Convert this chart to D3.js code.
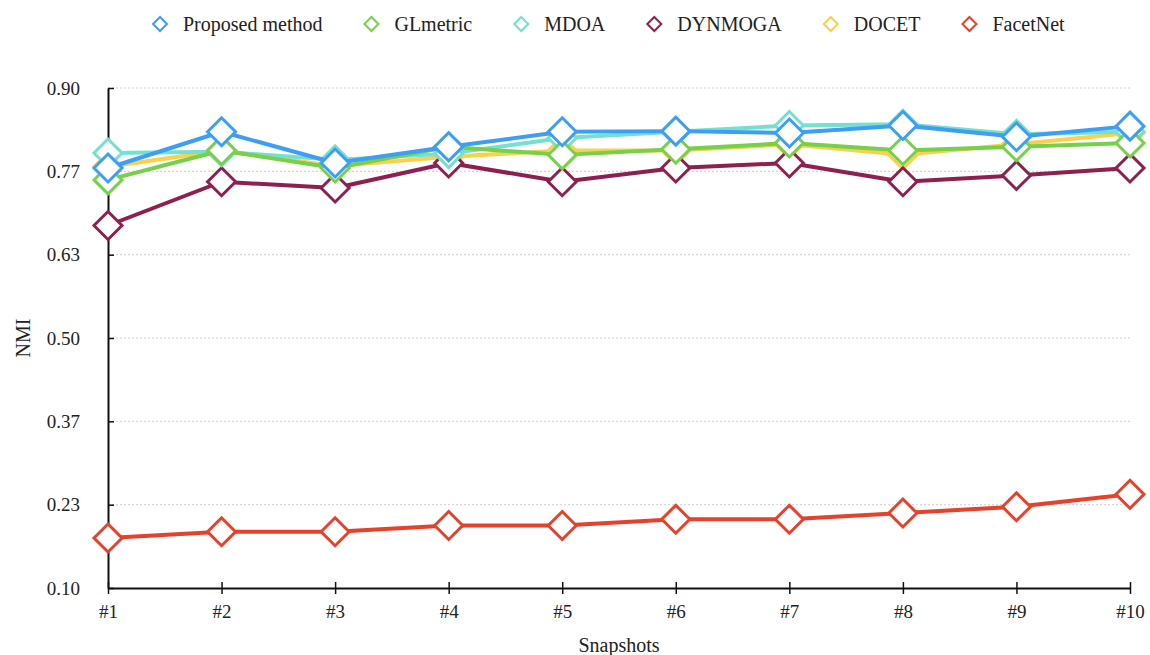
<!DOCTYPE html>
<html>
<head>
<meta charset="utf-8">
<script src="https://cdn.jsdelivr.net/npm/d3@7"></script>
<style>
  body { margin: 0; background: #fff; }
  text { font-family: "Liberation Serif", "DejaVu Serif", serif; fill: #222; }
</style>
</head>
<body>
<svg id="chart" width="1150" height="655"></svg>
<script>
  // data
  var snapshots = ["#1", "#2", "#3", "#4", "#5", "#6", "#7", "#8", "#9", "#10"];
  var yTicks    = [0.10, 0.2333, 0.3667, 0.50, 0.6333, 0.7667, 0.90];

  var seriesNames  = ["Proposed method", "GLmetric", "MDOA", "DYNMOGA", "DOCET", "FacetNet"];
  var seriesColors = ["#3d9ef5", "#76d04a", "#74e0d0", "#8e1f4f", "#fcd04a", "#e6412b"];

  var proposed = [0.772, 0.830, 0.780, 0.806, 0.830, 0.831, 0.828, 0.840, 0.822, 0.839];
  var glmetric = [0.753, 0.800, 0.772, 0.806, 0.793, 0.802, 0.812, 0.800, 0.806, 0.812];
  var mdoa     = [0.796, 0.798, 0.785, 0.795, 0.820, 0.830, 0.840, 0.842, 0.826, 0.830];
  var dynmoga  = [0.680, 0.750, 0.740, 0.780, 0.750, 0.772, 0.780, 0.750, 0.760, 0.772];
  var docet    = [0.774, 0.800, 0.775, 0.790, 0.800, 0.800, 0.810, 0.793, 0.810, 0.828];
  var facetnet = [0.180, 0.190, 0.190, 0.200, 0.200, 0.210, 0.210, 0.220, 0.230, 0.250];

  var allSeries = [proposed, glmetric, mdoa, dynmoga, docet, facetnet];

  var svg = d3.select("#chart");
  var plotLeft = 108, plotRight = 1130, plotTop = 88, plotBottom = 588;

  var x = d3.scalePoint().domain(snapshots).range([plotLeft, plotRight]);
  var y = d3.scaleLinear().domain([0.1, 0.9]).range([plotBottom, plotTop]);

  // grid
  svg.append("g")
    .selectAll("line")
    .data(yTicks.slice(1))
    .enter().append("line")
    .attr("x1", plotLeft).attr("x2", plotRight)
    .attr("y1", function (d) { return y(d); })
    .attr("y2", function (d) { return y(d); })
    .attr("stroke", "#cfcfcf")
    .attr("stroke-width", 1)
    .attr("stroke-dasharray", "2,2");

  // y axis
  var yAxis = svg.append("g")
    .attr("transform", "translate(" + plotLeft + ",0)")
    .call(d3.axisLeft(y).tickValues(yTicks).tickFormat(d3.format(".2f")).tickSizeInner(-6).tickSizeOuter(0).tickPadding(28));
  yAxis.select(".domain").attr("stroke", "#111").attr("stroke-width", 2);
  yAxis.selectAll(".tick line").attr("stroke", "#111").attr("stroke-width", 1.5);
  yAxis.selectAll("text").style("font-size", "19px").attr("fill", "#222");

  // x axis
  var xAxis = svg.append("g")
    .attr("transform", "translate(0," + plotBottom + ")")
    .call(d3.axisBottom(x).tickSizeInner(0).tickSizeOuter(0).tickPadding(17));
  xAxis.select(".domain").attr("stroke", "#111").attr("stroke-width", 2);
  xAxis.selectAll(".tick line").remove();
  xAxis.selectAll(".tick").append("line")
    .attr("y1", -6).attr("y2", 6)
    .attr("stroke", "#111").attr("stroke-width", 1.5);
  xAxis.selectAll("text").style("font-size", "19px").attr("fill", "#222");

  // axis titles
  svg.append("text")
    .attr("transform", "translate(30," + ((plotTop + plotBottom) / 2) + ") rotate(-90)")
    .attr("text-anchor", "middle")
    .style("font-size", "20px")
    .text("NMI");
  svg.append("text")
    .attr("x", 619).attr("y", 652)
    .attr("text-anchor", "middle")
    .style("font-size", "20px")
    .text("Snapshots");

  // lines, drawn in reverse legend order so Proposed ends on top
  var line = d3.line()
    .x(function (d, i) { return x(snapshots[i]); })
    .y(function (d) { return y(d); });

  function diamond(r) {
    return "M0," + (-r) + "L" + r + ",0L0," + r + "L" + (-r) + ",0Z";
  }

  for (var k = allSeries.length - 1; k >= 0; k--) {
    var g = svg.append("g");
    g.append("path")
      .attr("d", line(allSeries[k]))
      .attr("fill", "none")
      .attr("stroke", seriesColors[k])
      .attr("stroke-width", 4)
      .attr("stroke-linejoin", "round");
    g.selectAll("path.mark")
      .data(allSeries[k])
      .enter().append("path")
      .attr("class", "mark")
      .attr("d", diamond(14))
      .attr("transform", function (d, i) { return "translate(" + x(snapshots[i]) + "," + y(d) + ")"; })
      .attr("fill", "#fff")
      .attr("stroke", seriesColors[k])
      .attr("stroke-width", 3);
  }

  // legend
  var legend = svg.append("g").attr("transform", "translate(0,24)");
  var lx = 160;
  for (var j = 0; j < seriesNames.length; j++) {
    var item = legend.append("g").attr("transform", "translate(" + lx + ",0)");
    item.append("path")
      .attr("d", diamond(7))
      .attr("fill", "#fff")
      .attr("stroke", seriesColors[j])
      .attr("stroke-width", 2);
    var t = item.append("text")
      .attr("x", 23).attr("y", 7)
      .style("font-size", "20px")
      .text(seriesNames[j]);
    lx += 23 + t.node().getComputedTextLength() + 49;
  }
</script>
</body>
</html>
